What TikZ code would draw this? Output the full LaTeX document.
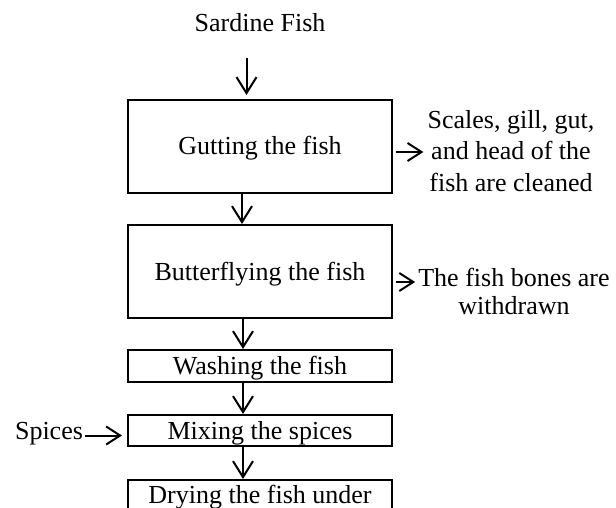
\documentclass[tikz,border=0pt]{standalone}
\usepackage{fontspec}
\setmainfont{Liberation Serif}
\usetikzlibrary{arrows.meta}
\begin{document}
\begin{tikzpicture}[x=1pt,y=-1pt,
  every node/.style={font=\fontsize{26}{30}\selectfont, inner sep=0pt},
  oneline/.style={text height=17pt, text depth=0pt},
  procbox/.style={draw, line width=2pt, minimum width=264pt, oneline},
  sidetext/.style={align=center, font=\fontsize{26}{31.5}\selectfont},
  arr/.style={line width=2pt, -{Straight Barb[length=16pt,width=20pt]}},
  sarr/.style={line width=2pt, -{Straight Barb[length=14pt,width=18pt]}}]
\clip (0,0) rectangle (616,508);
\node (sardine) [oneline] at (260,23.5) {Sardine Fish};
\node (gut) [procbox, minimum height=93pt] at (260,146.5) {Gutting the fish};
\node (but) [procbox, minimum height=93pt] at (260,271.5) {Butterflying the fish};
\node (wash) [procbox, minimum height=32pt] at (260,366) {Washing the fish};
\node (mix) [procbox, minimum height=31pt] at (260,430.5) {Mixing the spices};
\node (dry) [procbox, anchor=north, text depth=40pt, inner ysep=6pt] at (260,479) {Drying the fish under};
\node (scales) [sidetext] at (511,151) {Scales, gill, gut,\\and head of the\\fish are cleaned};
\node (bones) [sidetext, font=\fontsize{26}{28}\selectfont] at (514,291) {The fish bones are\\withdrawn};
\node (spices) [oneline] at (49,430.5) {Spices};
% vertical connectors
\draw[arr, shorten <=26pt, shorten >=4pt] ([xshift=-13.5pt]sardine.south) -- ([xshift=-13.5pt]gut.north);
\draw[arr] ([xshift=-18pt]gut.south) -- ([xshift=-18pt]but.north);
\draw[arr] ([xshift=-17pt]but.south) -- ([xshift=-17pt]wash.north);
\draw[arr] ([xshift=-17pt]wash.south) -- ([xshift=-17pt]mix.north);
\draw[arr] ([xshift=-17pt]mix.south) -- ([xshift=-17pt]dry.north);
% side connectors
\draw[sarr] ([xshift=3pt,yshift=-5.5pt]gut.east) -- ([xshift=-4pt,yshift=-1pt]scales.west);
\draw[sarr] ([xshift=3pt,yshift=-10.5pt]but.east) -- ([xshift=-3pt,yshift=9pt]bones.west);
\draw[sarr] ([xshift=2pt,yshift=-5pt]spices.east) -- ([xshift=-5pt,yshift=-5pt]mix.west);
\end{tikzpicture}
\end{document}
